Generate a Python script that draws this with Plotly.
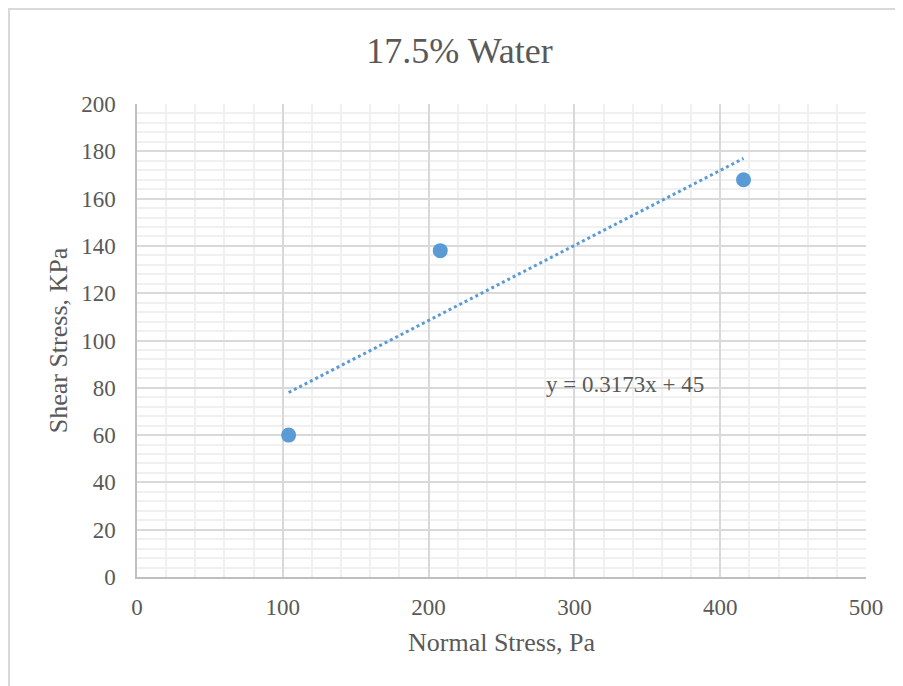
import numpy as np
import plotly.graph_objects as go

normal_stress = [104, 208, 416]
shear_stress = [60, 138, 168]
title_text = "17.5% Water"
x_title = "Normal Stress, Pa"
y_title = "Shear Stress, KPa"

slope, intercept = np.polyfit(normal_stress, shear_stress, 1)
trend_x = [min(normal_stress), max(normal_stress)]
trend_y = [slope * v + intercept for v in trend_x]
eq_text = f"y = {slope:.4f}x + {intercept:.0f}"

blue = "#5b9bd5"
grey_text = "#595959"
font_fam = "Liberation Serif, Times New Roman, serif"

W, H = 903, 686
L, T, PW, PH = 129, 96, 729, 473

fig = go.Figure()
fig.add_trace(go.Scatter(x=trend_x, y=trend_y, mode="lines",
                         line=dict(color=blue, width=3, dash="dot"),
                         hoverinfo="skip", showlegend=False))
fig.add_trace(go.Scatter(x=normal_stress, y=shear_stress, mode="markers",
                         marker=dict(color=blue, size=15), showlegend=False))

fig.add_annotation(x=335, y=81.6, text=eq_text, showarrow=False,
                   font=dict(family=font_fam, size=23, color=grey_text),
                   xanchor="center", yanchor="middle")

fig.update_layout(
    width=W, height=H,
    margin=dict(l=L, r=W - L - PW, t=T, b=H - T - PH),
    paper_bgcolor="white", plot_bgcolor="white",
    font=dict(family=font_fam, color=grey_text),
    title=dict(text=title_text, x=0.5, xanchor="center",
               y=1 - 42 / H, yanchor="middle",
               font=dict(family=font_fam, size=36, color=grey_text)),
    shapes=[dict(type="rect", xref="paper", yref="paper",
                 x0=(-L + 1) / PW, x1=(W + 20 - L) / PW,
                 y0=-(H + 20 - T - PH) / PH, y1=1 + (T - 1) / PH,
                 line=dict(color="#d9d9d9", width=2), layer="below")],
)
fig.update_xaxes(range=[0, 500], dtick=100, showgrid=True, gridcolor="#d9d9d9", gridwidth=1.5,
                 minor=dict(dtick=20, showgrid=True, gridcolor="#f0f0f0", gridwidth=1.5),
                 showline=True, linecolor="#bfbfbf", linewidth=1.5, zeroline=False,
                 ticks="", ticklabelstandoff=9,
                 tickfont=dict(family=font_fam, size=23, color=grey_text),
                 title=dict(text=x_title, standoff=13,
                            font=dict(family=font_fam, size=26, color=grey_text)))
fig.update_yaxes(range=[0, 200], dtick=20, showgrid=True, gridcolor="#d9d9d9", gridwidth=1.5,
                 minor=dict(dtick=4, showgrid=True, gridcolor="#f0f0f0", gridwidth=1.5),
                 showline=True, linecolor="#bfbfbf", linewidth=1.5, zeroline=False,
                 ticks="", ticklabelstandoff=15,
                 tickfont=dict(family=font_fam, size=23, color=grey_text),
                 title=dict(text=y_title, standoff=6,
                            font=dict(family=font_fam, size=26, color=grey_text)))

fig.write_html("out.html")
